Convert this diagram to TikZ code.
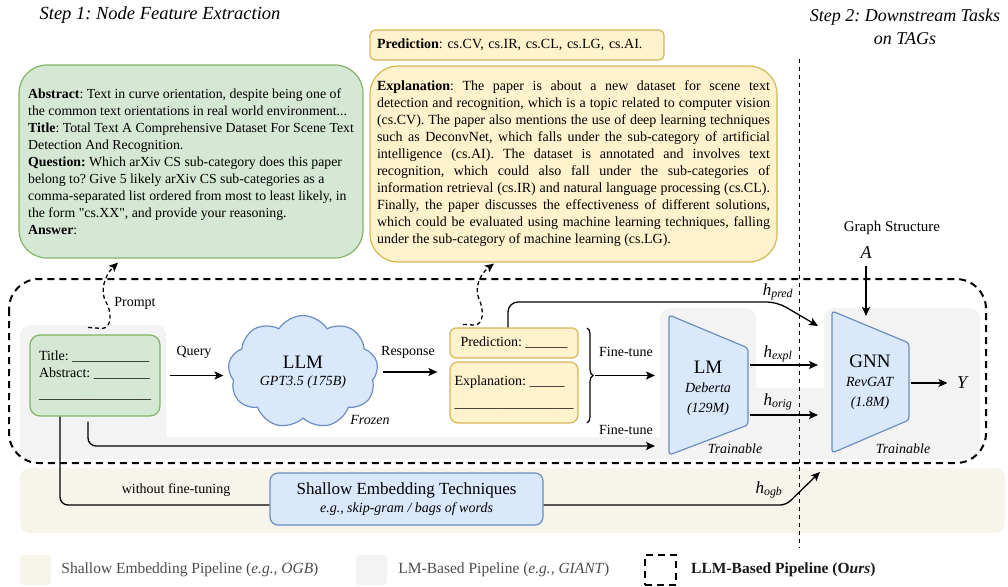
\documentclass[tikz,border=0pt]{standalone}
\usepackage{fontspec}
\setmainfont{Liberation Serif}[Ligatures=TeXOff]
\usetikzlibrary{arrows.meta,positioning,shapes.symbols,decorations.pathreplacing}
\definecolor{gfill}{HTML}{D5E8D4}
\definecolor{gline}{HTML}{82B366}
\definecolor{yfill}{HTML}{FFF2CC}
\definecolor{yline}{HTML}{D6B656}
\definecolor{bfill}{HTML}{DAE8FC}
\definecolor{bline}{HTML}{6C8EBF}
\definecolor{lmgray}{HTML}{F3F3F3}
\definecolor{shbeige}{HTML}{F7F4EC}
\frenchspacing

\begin{document}
\begin{tikzpicture}[x=1pt, y=-1pt,
  every node/.style={font=\fontsize{14}{17}\selectfont},
  arr/.style={-{Stealth[length=9pt,width=8pt,inset=2pt]}, line width=1.3pt},
  dasharr/.style={arr, dash pattern=on 4pt off 3pt},
  greenbox/.style={draw=gline, fill=gfill, line width=1.2pt},
  yellowbox/.style={draw=yline, fill=yfill, line width=1.2pt},
  bluebox/.style={draw=bline, fill=bfill, line width=1.2pt},
  nohyph/.style={execute at begin node={\hyphenpenalty=10000\relax}},
  frame/.style={line width=2pt, dash pattern=on 7pt off 5pt},
  hlabel/.style={font=\fontsize{17}{20}\selectfont},
  legbox/.style={minimum width=31pt, minimum height=30pt, inner sep=0pt},
  legtext/.style={inner sep=0pt, font=\fontsize{15.5}{18}\selectfont, text=black!70}]
  \useasboundingbox (0,0) rectangle (1008,586);

  \fill[shbeige, rounded corners=10] (20,468) rectangle (1005,533);
  \fill[lmgray, rounded corners=10] (20,325) rectangle (166,459);
  \fill[lmgray] (150,437) rectangle (670,459);
  \fill[lmgray, rounded corners=10] (660,308) rectangle (756,459);
  \fill[lmgray] (740,388) rectangle (840,459);
  \fill[lmgray, rounded corners=10] (824,308) rectangle (980,459);
  \draw[frame, rounded corners=30] (9,279) rectangle (986,463);
  \draw[line width=1pt, dash pattern=on 4pt off 4pt] (799,59) -- (799,548);

  \node[font=\fontsize{18.5}{23}\selectfont\itshape] (step1) at (160,15) {Step 1: Node Feature Extraction};
  \node[font=\fontsize{18}{23}\selectfont\itshape, align=center] (step2) at (905,27) {Step 2: Downstream Tasks\\on TAGs};

  \node[greenbox, rounded corners=28, minimum width=344pt, minimum height=193pt, align=left,
        font=\fontsize{13.8}{17}\selectfont] (abs) at (191,161.5)
    {\textbf{Abstract}: Text in curve orientation, despite being one of\\
     the common text orientations in real world environment...\\
     \textbf{Title}: Total Text A Comprehensive Dataset For Scene Text\\
     Detection And Recognition.\\
     \textbf{Question:} Which arXiv CS sub-category does this paper\\
     belong to? Give 5 likely arXiv CS sub-categories as a\\
     comma-separated list ordered from most to least likely, in\\
     the form "cs.XX", and provide your reasoning.\\
     \textbf{Answer}:};
  \node[yellowbox, rounded corners=5, minimum height=30pt, text width=280pt, inner xsep=7pt, align=left] (pred) at (517,45)
    {\textbf{Prediction}: cs.CV, cs.IR, cs.CL, cs.LG, cs.AI.};
  \node[yellowbox, nohyph, rounded corners=28, minimum height=196pt, text width=393pt, inner xsep=7pt, align=justify] (expl) at (573.5,164)
    {\textbf{Explanation}: The paper is about a new dataset for scene text\linebreak
     detection and recognition, which is a topic related to computer vision\linebreak
     (cs.CV). The paper also mentions the use of deep learning techniques\linebreak
     such as DeconvNet, which falls under the sub-category of artificial\linebreak
     intelligence (cs.AI). The dataset is annotated and involves text\linebreak
     recognition, which could also fall under the sub-categories of\linebreak
     information retrieval (cs.IR) and natural language processing (cs.CL).\linebreak
     Finally, the paper discusses the effectiveness of different solutions,\linebreak
     which could be evaluated using machine learning techniques, falling\linebreak
     under the sub-category of machine learning (cs.LG).};

  \node[greenbox, rounded corners=10, minimum width=130pt, minimum height=81pt, align=left] (title) at (95,375.5)
    {Title: \_\_\_\_\_\_\_\_\_\_\_\\Abstract: \_\_\_\_\_\_\_\_\\[4pt]\_\_\_\_\_\_\_\_\_\_\_\_\_\_\_\_};
  \node[cloud, cloud puffs=9, cloud puff arc=115, aspect=1.4, bluebox, minimum width=150pt, minimum height=108pt, align=center] (llm) at (303,372)
    {{\fontsize{19}{22}\selectfont LLM}\\{\itshape GPT3.5 (175B)}};
  \node[font=\fontsize{14}{17}\selectfont\itshape] (frozen) at (370,420) {Frozen};
  \node[yellowbox, rounded corners=6, minimum width=128pt, minimum height=30pt] (pbox) at (514,343) {Prediction: \_\_\_\_\_\_};
  \node[yellowbox, rounded corners=8, minimum width=128pt, minimum height=61pt, align=left] (ebox) at (514,392.5)
    {Explanation: \_\_\_\_\_\\[5pt]\_\_\_\_\_\_\_\_\_\_\_\_\_\_\_\_\_};
  \draw[line width=1.2pt, decorate, decoration={brace, amplitude=6pt}] (587,328) -- (587,423);

  \draw[bluebox, rounded corners=3] (669,315) -- (748,348) -- (748,425) -- (669,455) -- cycle;
  \node[align=center] (lm) at (708,388) {{\fontsize{19}{22}\selectfont LM}\\[2pt]\textit{Deberta}\\[3pt]\textit{(129M)}};
  \node[font=\fontsize{14}{17}\selectfont\itshape] (lmtrain) at (735,449) {Trainable};
  \draw[bluebox, rounded corners=3] (832,311) -- (909,343) -- (909,420) -- (832,453) -- cycle;
  \node[align=center] (gnn) at (870,382) {{\fontsize{19}{22}\selectfont GNN}\\[2pt]\textit{RevGAT}\\[3pt]\textit{(1.8M)}};
  \node[font=\fontsize{14}{17}\selectfont\itshape] (gnntrain) at (903,449) {Trainable};
  \node[font=\fontsize{15}{18}\selectfont] (graph) at (892,228) {Graph Structure};
  \node[font=\fontsize{18}{20}\selectfont\itshape] (a) at (866,253) {A};
  \node[font=\fontsize{18}{20}\selectfont\itshape] (y) at (962,383) {Y};

  \node[bluebox, rounded corners=8, minimum width=273pt, minimum height=52pt, align=center] (shallow) at (406.5,499)
    {{\fontsize{17}{20}\selectfont Shallow Embedding Techniques}\\[1pt]{\itshape e.g., skip-gram / bags of words}};

  \coordinate (brtip) at (595,375.5);
  \coordinate (lmW1) at (655,375.5);
  \coordinate (lmW2) at (655,446);
  \coordinate (lmE1) at (750,365);
  \coordinate (lmE2) at (750,415);
  \coordinate (gnnW0) at (818,326);
  \coordinate (gnnW1) at (818,365);
  \coordinate (gnnW2) at (818,415);
  \coordinate (gnnE) at (911,383);
  \coordinate (gnnN) at (866,316);
  \coordinate (predK) at (777,302);
  \coordinate (ogbK) at (786,505);
  \coordinate (ogbE) at (820,472);

  \draw[arr, shorten <=9pt, shorten >=5pt] (title.east) -- (title.east -| llm.west);
  \draw[arr, shorten <=5pt, shorten >=12pt] (llm.east) -- (llm.east -| pbox.west);
  \draw[arr] (brtip) -- (lmW1);
  \draw[arr, rounded corners=8] ([xshift=-7pt, yshift=-5pt]title.south) |- (lmW2);
  \draw[line width=1.3pt, rounded corners=8] ([xshift=-35pt]title.south) |- ([yshift=-6pt]shallow.west);
  \draw[arr, rounded corners=6] ([yshift=-6pt]shallow.east) -- (ogbK) -- (ogbE);
  \draw[arr, rounded corners=10] ([xshift=-6pt]pbox.north) |- (predK) -- (gnnW0);
  \draw[arr] (lmE1) -- (gnnW1);
  \draw[arr] (lmE2) -- (gnnW2);
  \draw[arr, shorten <=4pt] (a) -- (gnnN);
  \draw[arr, shorten >=6pt] (gnnE) -- (y);
  \draw[dasharr] ([xshift=-7pt, yshift=7pt]title.north) -- (102,328.5) .. controls (112,328) and (112,312) .. (106,302)
    .. controls (100,292) and (104,276) .. ([xshift=-73pt, yshift=-4pt]abs.south);
  \draw[dasharr] ([xshift=-51pt, yshift=3pt]pbox.north) -- (474,325) .. controls (484,325) and (484,310) .. (479,299)
    .. controls (474,288) and (480,274) .. ([xshift=-79.5pt, yshift=-1pt]expl.south);

  \node (prompt) at (135,303) {Prompt};
  \node (query) at (194,352) {Query};
  \node (response) at (408,352) {Response};
  \node (ft1) at (626,352) {Fine-tune};
  \node (ft2) at (626,430) {Fine-tune};
  \node (nofine) at (176,490) {without fine-tuning};
  \node[hlabel] (hpred) at (778,292) {\textit{h}\textsubscript{\textit{pred}}};
  \node[hlabel] (hexpl) at (778,354) {\textit{h}\textsubscript{\textit{expl}}};
  \node[hlabel] (horig) at (778,402) {\textit{h}\textsubscript{\textit{orig}}};
  \node[hlabel] (hogb) at (769,490) {\textit{h}\textsubscript{\textit{ogb}}};

  \node[legbox, fill=shbeige, rounded corners=3] (legsh) at (35.5,570) {};
  \node[legtext, right=10pt of legsh] (legshtxt) {Shallow Embedding Pipeline (\textit{e.g., OGB})};
  \node[legbox, fill=lmgray, rounded corners=3] (leglm) at (371.5,570) {};
  \node[legtext, right=11pt of leglm] (leglmtxt) {LM-Based Pipeline (\textit{e.g., GIANT})};
  \node[legbox, draw, frame] (legllm) at (660.5,570) {};
  \node[legtext, right=14pt of legllm, text=black!90, font=\fontsize{15.5}{18}\selectfont\bfseries] (legllmtxt) {LLM-Based Pipeline (O\textit{urs})};
\end{tikzpicture}
\end{document}
